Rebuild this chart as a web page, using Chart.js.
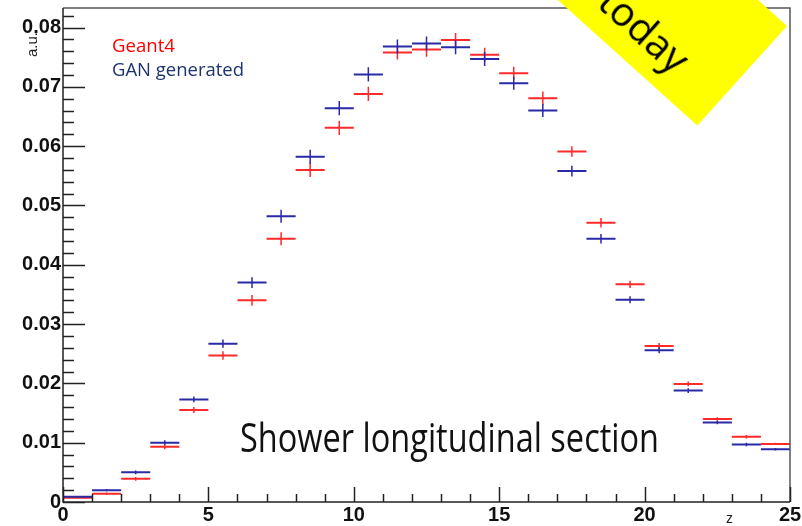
<!DOCTYPE html>
<html lang="en">
<head>
    <meta charset="UTF-8">
    <title>Shower longitudinal section</title>
    <script src="https://cdn.jsdelivr.net/npm/chart.js"></script>
    <style>
        * { margin: 0; padding: 0; box-sizing: border-box; }

        html, body {
            width: 802px;
            height: 526px;
            overflow: hidden;
            background: #fff;
        }

        .wrap {
            position: relative;
            width: 802px;
            height: 526px;
        }

        .txt {
            position: absolute;
            white-space: nowrap;
            line-height: 1;
            font-family: 'Open Sans', 'Noto Sans', sans-serif;
            transform-origin: left top;
        }

        .banner {
            position: absolute;
            left: 487px;
            top: 26px;
            width: 300px;
            height: 134px;
            background: #ffff00;
            transform-origin: right top;
            transform: rotate(42deg);
        }

        .banner span {
            position: absolute;
            right: 51px;
            top: 78px;
            font-family: 'Open Sans', 'Noto Sans', sans-serif;
            font-size: 40px;
            line-height: 1;
            color: #000;
        }
    </style>
</head>
<body>
    <div class="wrap">
        <canvas id="chart"></canvas>
        <div class="txt" id="lgG4" data-w="63" style="left:112px; top:36px; font-size:18px; color:#ff0000;">Geant4</div>
        <div class="txt" id="lgGan" data-w="132" style="left:112px; top:60px; font-size:18px; color:#1c3370;">GAN generated</div>
        <div class="txt" id="title" data-w="419" style="left:240px; top:416px; font-size:41px; color:#111;">Shower longitudinal section</div>
        <div class="banner"><span>today</span></div>
    </div>

    <script>
        // bins along z (lower edges, width 1)
        const zBins = [0, 1, 2, 3, 4, 5, 6, 7, 8, 9, 10, 11, 12, 13, 14, 15, 16, 17, 18, 19, 20, 21, 22, 23, 24];

        const geant4 = [0.0007, 0.0014, 0.0039, 0.0093, 0.0155, 0.0247, 0.0340, 0.0444, 0.0560, 0.0631, 0.0688, 0.0758, 0.0763,
                        0.0779, 0.0754, 0.0723, 0.0681, 0.0591, 0.0471, 0.0367, 0.0263, 0.0199, 0.0140, 0.0110, 0.0098];
        const gan = [0.0009, 0.0020, 0.0050, 0.0100, 0.0173, 0.0267, 0.0370, 0.0482, 0.0582, 0.0664, 0.0721, 0.0768, 0.0773,
                     0.0767, 0.0747, 0.0706, 0.0660, 0.0558, 0.0444, 0.0341, 0.0256, 0.0188, 0.0134, 0.0097, 0.0089];

        // error bar half heights
        const geant4Err = [0.0001, 0.0002, 0.0003, 0.0004, 0.0005, 0.0007, 0.0009, 0.0011, 0.0012, 0.0012, 0.0012, 0.0012, 0.0012,
                           0.0012, 0.0012, 0.0011, 0.0011, 0.0009, 0.0008, 0.0006, 0.0005, 0.0004, 0.0003, 0.0003, 0.0002];
        const ganErr = [0.0001, 0.0002, 0.0003, 0.0004, 0.0005, 0.0007, 0.0009, 0.0011, 0.0012, 0.0012, 0.0012, 0.0012, 0.0012,
                        0.0012, 0.0012, 0.0011, 0.0011, 0.0009, 0.0008, 0.0006, 0.0005, 0.0004, 0.0003, 0.0003, 0.0002];

        const xTicks = [0, 5, 10, 15, 20, 25];
        const yTicks = [0, 0.01, 0.02, 0.03, 0.04, 0.05, 0.06, 0.07, 0.08];

        const RED = '#ff2a2a';
        const BLUE = '#2a2aa6';

        // horizontal bin segments, broken between bins
        function binLines(vals) {
            const pts = [];
            zBins.forEach((z, i) => {
                pts.push({x: z, y: vals[i]}, {x: z + 1, y: vals[i]}, {x: z + 1, y: null});
            });
            return pts;
        }

        // vertical error bars at bin centres
        function errLines(vals, errs) {
            const pts = [];
            zBins.forEach((z, i) => {
                pts.push({x: z + 0.5, y: vals[i] - errs[i]}, {x: z + 0.5, y: vals[i] + errs[i]}, {x: z + 0.5, y: null});
            });
            return pts;
        }

        function seg(data, color, width, order) {
            return {
                data: data,
                showLine: true,
                spanGaps: false,
                borderColor: color,
                borderWidth: width,
                pointRadius: 0,
                order: order
            };
        }

        // ROOT style frame: inner ticks, axis lines, small axis titles
        const frame = {
            id: 'frame',
            afterDatasetsDraw(chart) {
                const c = chart.ctx;
                const a = chart.chartArea;
                const xs = chart.scales.x;
                const ys = chart.scales.y;

                c.save();
                c.strokeStyle = '#555';
                c.lineWidth = 1.5;
                c.beginPath();
                c.moveTo(a.left, a.top);
                c.lineTo(a.right, a.top);
                c.lineTo(a.right, a.bottom);
                c.stroke();

                c.strokeStyle = '#222';
                c.beginPath();
                c.moveTo(a.left, a.top);
                c.lineTo(a.left, a.bottom);
                c.lineTo(a.right, a.bottom);

                // y ticks: major every 0.01, minor every 0.002
                for (let k = 0; k * 0.002 <= ys.max + 1e-9; k++) {
                    const py = Math.round(ys.getPixelForValue(k * 0.002)) + 0.5;
                    const len = k % 5 === 0 ? 22 : 11;
                    c.moveTo(a.left, py);
                    c.lineTo(a.left + len, py);
                }
                // x ticks: major every 5, minor every 1
                for (let k = 0; k <= xs.max; k++) {
                    const px = Math.round(xs.getPixelForValue(k)) + 0.5;
                    const len = k % 5 === 0 ? 15 : 8;
                    c.moveTo(px, a.bottom);
                    c.lineTo(px, a.bottom - len);
                }
                c.stroke();

                c.fillStyle = '#222';
                c.font = '14px "Liberation Sans", Arial, sans-serif';
                c.textAlign = 'right';
                c.textBaseline = 'alphabetic';
                c.fillText('z', 733, 523);

                c.translate(37, 32);
                c.rotate(-Math.PI / 2);
                c.font = '15px "Liberation Sans", Arial, sans-serif';
                c.textAlign = 'right';
                c.fillText('a.u.', 0, 0);
                c.restore();
            }
        };

        const tickFont = {family: '"Liberation Sans", Arial, sans-serif', size: 20, weight: 'bold'};

        // no extra room for half tick labels: the frame sits where the picture has it
        function noPad(s) {
            s.paddingTop = 0;
            s.paddingBottom = 0;
            s.paddingLeft = 0;
            s.paddingRight = 0;
        }

        new Chart(document.getElementById('chart'), {
            type: 'scatter',
            data: {
                datasets: [
                    seg(binLines(gan), BLUE, 2, 1),
                    seg(errLines(gan, ganErr), BLUE, 1.5, 2),
                    seg(binLines(geant4), RED, 2, 3),
                    seg(errLines(geant4, geant4Err), RED, 1.5, 4)
                ]
            },
            options: {
                responsive: true,
                maintainAspectRatio: false,
                animation: false,
                layout: {padding: {top: 8, right: 12, left: 0, bottom: 0}},
                plugins: {
                    legend: {display: false},
                    tooltip: {enabled: false}
                },
                scales: {
                    x: {
                        type: 'linear',
                        min: 0,
                        max: 25,
                        grid: {display: false, drawTicks: false},
                        border: {display: false},
                        afterBuildTicks: s => { s.ticks = xTicks.map(v => ({value: v})); },
                        afterFit: s => { s.height = 24; noPad(s); },
                        ticks: {
                            padding: 1,
                            maxRotation: 0,
                            autoSkip: false,
                            color: '#111',
                            font: tickFont,
                            callback: v => String(v)
                        }
                    },
                    y: {
                        min: 0,
                        max: 0.0833,
                        grid: {display: false, drawTicks: false},
                        border: {display: false},
                        afterBuildTicks: s => { s.ticks = yTicks.map(v => ({value: v})); },
                        afterFit: s => { s.width = 63; noPad(s); },
                        ticks: {
                            padding: 2,
                            color: '#111',
                            font: tickFont,
                            callback: v => v === 0 ? '0' : v.toFixed(2)
                        }
                    }
                }
            },
            plugins: [frame]
        });

        // squeeze the slide texts to their widths in the picture
        function fitTexts() {
            document.querySelectorAll('.txt').forEach(el => {
                el.style.transform = 'none';
                const w = el.getBoundingClientRect().width;
                el.style.transform = 'scaleX(' + (parseFloat(el.dataset.w) / w) + ')';
            });
        }
        fitTexts();
        if (document.fonts) document.fonts.ready.then(fitTexts);
    </script>
</body>
</html>
